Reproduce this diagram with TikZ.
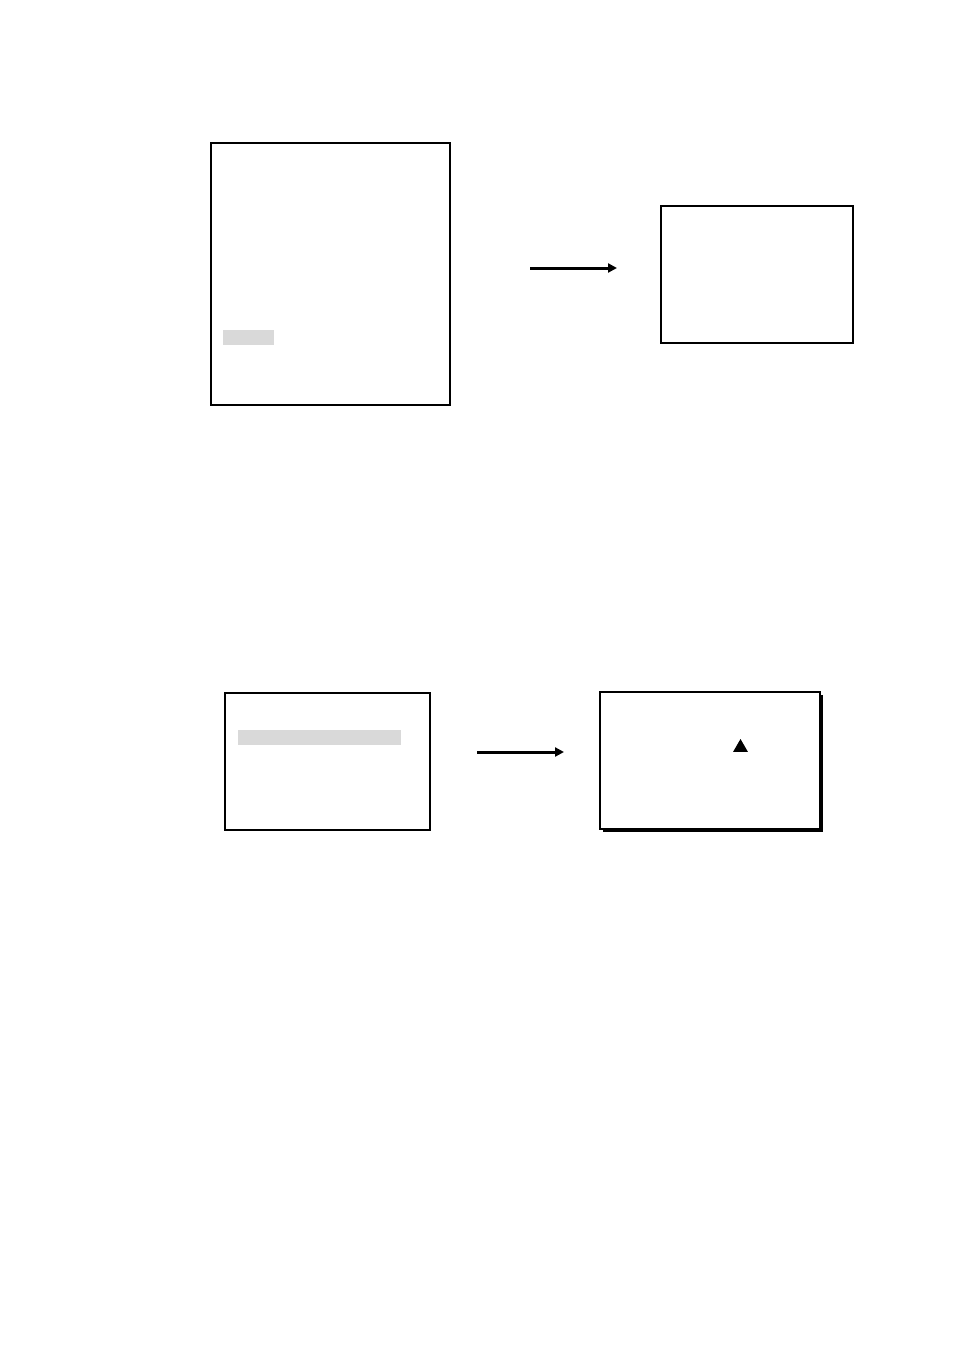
\documentclass[tikz,border=0pt]{standalone}
\usetikzlibrary{arrows.meta,shadows,shapes.geometric}
\tikzset{
  screen/.style={draw,fill=white,line width=1.6pt,inner sep=0pt,outer sep=0pt,anchor=north west},
  hilite/.style={fill=black!15,inner sep=0pt,outer sep=0pt,anchor=north west},
  goes/.style={-{Triangle[length=9pt,width=9pt]},line width=3pt}
}
\begin{document}
\begin{tikzpicture}[x=1pt,y=-1pt]
\useasboundingbox (0,0) rectangle (954,1350);
% first step
\node[screen,minimum width=239pt,minimum height=262pt] (M1) at (211,143) {};
\node[hilite,minimum width=51pt,minimum height=15pt] (H1) at (223,330) {};
\node[screen,minimum width=192pt,minimum height=137pt] (M2) at (661,206) {};
\coordinate (A1) at (530,268);
\coordinate (B1) at (617,268);
\draw[goes] (A1) -- (B1);
% second step
\node[screen,minimum width=205pt,minimum height=137pt] (M3) at (225,693) {};
\node[hilite,minimum width=163pt,minimum height=15pt] (H2) at (238,730) {};
\node[screen,minimum width=220pt,minimum height=137pt,
  drop shadow={shadow xshift=2.5pt,shadow yshift=-2.5pt,fill=black,opacity=1}] (M4) at (600,692) {};
\node[regular polygon,regular polygon sides=3,fill=black,inner sep=0pt,minimum size=17pt] (T) at (740.5,747.5) {};
\coordinate (A2) at (477,752);
\coordinate (B2) at (564,752);
\draw[goes] (A2) -- (B2);
\end{tikzpicture}
\end{document}
